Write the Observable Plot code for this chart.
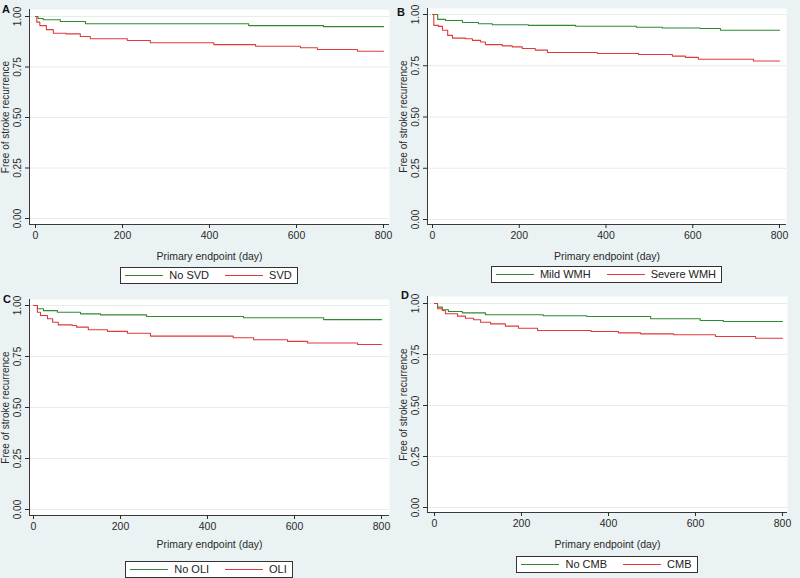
<!DOCTYPE html>
<html><head><meta charset="utf-8">
<script src="https://cdn.jsdelivr.net/npm/d3@7"></script>
<script src="https://cdn.jsdelivr.net/npm/@observablehq/plot@0.6"></script>
<style>
html,body{margin:0;padding:0;background:#eaf2f3;}
#fig{position:relative;width:800px;height:578px;overflow:hidden;background:#eaf2f3;font-family:"Liberation Sans",Arial,sans-serif;color:#222;}
.cell{position:absolute;width:400px;height:289px;}
.cell svg{position:absolute;left:0;top:0;}
.letter{position:absolute;font-weight:bold;font-size:11px;line-height:11px;color:#111;}
.legend{position:absolute;display:flex;justify-content:center;}
.box{border:1px solid #333;background:#fff;display:flex;align-items:center;padding:0 5px 0 4px;height:15px;font-size:11px;line-height:13px;}
.item{display:flex;align-items:center;}
.item + .item{margin-left:16px;}
.sw{display:block;width:38px;height:1px;margin-right:6px;}
</style>
</head><body>
<div id="fig"></div>
<script>
// ---- data ----
const panelLetters = ["A", "B", "C", "D"];
const groupNames = {
  A: ["No SVD", "SVD"],
  B: ["Mild WMH", "Severe WMH"],
  C: ["No OLI", "OLI"],
  D: ["No CMB", "CMB"]
};
const xTicks = [0, 200, 400, 600, 800];
const yTicks = [0, 0.25, 0.5, 0.75, 1];
const xTitle = "Primary endpoint (day)";
const yTitle = "Free of stroke recurrence";

const noSVD = [[0,1],[6,0.99],[18,0.984],[57,0.975],[115,0.964],[490,0.955],[662,0.950],[800,0.950]];
const SVD = [[0,1],[3,0.972],[10,0.955],[25,0.935],[41,0.917],[70,0.914],[103,0.901],[126,0.890],[211,0.881],[264,0.870],[410,0.861],[506,0.853],[609,0.845],[648,0.837],[740,0.828],[800,0.828]];

const mildWMH = [[0,1],[12,0.976],[30,0.971],[69,0.961],[106,0.955],[138,0.950],[221,0.947],[330,0.943],[470,0.938],[530,0.934],[617,0.932],[664,0.923],[800,0.923]];
const severeWMH = [[0,1],[3,0.947],[14,0.942],[23,0.923],[35,0.898],[46,0.885],[76,0.882],[92,0.874],[111,0.866],[122,0.853],[161,0.847],[184,0.842],[207,0.834],[237,0.826],[265,0.815],[380,0.810],[475,0.805],[553,0.797],[583,0.791],[613,0.782],[740,0.773],[800,0.773]];

const noOLI = [[0,1],[9,0.984],[23,0.975],[55,0.967],[108,0.959],[154,0.954],[260,0.946],[483,0.940],[667,0.931],[800,0.931]];
const OLI = [[0,1],[9,0.967],[16,0.951],[32,0.935],[44,0.918],[57,0.905],[89,0.902],[99,0.894],[126,0.881],[170,0.873],[216,0.864],[269,0.850],[459,0.842],[506,0.832],[584,0.824],[630,0.816],[745,0.809],[800,0.809]];

const noCMB = [[0,1],[7,0.982],[18,0.969],[32,0.961],[64,0.954],[117,0.945],[250,0.940],[350,0.936],[497,0.925],[611,0.917],[664,0.912],[800,0.912]];
const CMB = [[0,1],[7,0.974],[18,0.966],[25,0.950],[53,0.938],[71,0.928],[90,0.920],[106,0.908],[129,0.900],[163,0.889],[193,0.879],[237,0.868],[360,0.863],[423,0.856],[474,0.851],[550,0.847],[646,0.838],[738,0.830],[800,0.830]];

const seriesByPanel = {A: [noSVD, SVD], B: [mildWMH, severeWMH], C: [noOLI, OLI], D: [noCMB, CMB]};

// ---- style / layout ----
const colors = ["#2f8a2f", "#e03a3a"];
const layout = {
  A: {cx: 0,   cy: 0,   left: 29, right: 389, x0: 35, x800: 383, top: 9,  y1: 16, y0: 218, axis: 224, titleOff: 35, legendTop: 267, lx: 2,  ly: 4},
  B: {cx: 398, cy: 0,   left: 29, right: 388, x0: 34, x800: 381, top: 8,  y1: 14, y0: 219, axis: 224, titleOff: 35, legendTop: 266, lx: -1, ly: 7},
  C: {cx: 0,   cy: 289, left: 29, right: 389, x0: 33, x800: 381, top: 10, y1: 16, y0: 220, axis: 226, titleOff: 32, legendTop: 272, lx: 3,  ly: 5},
  D: {cx: 398, cy: 289, left: 29, right: 389, x0: 36, x800: 384, top: 7,  y1: 14, y0: 218, axis: 223, titleOff: 35, legendTop: 267, lx: 3,  ly: 1}
};

const fig = document.getElementById("fig");

for (const key of panelLetters) {
  const g = layout[key];
  const kx = (g.x800 - g.x0) / 800;
  const xDomain = [(g.left - g.x0) / kx, 800 + (g.right - g.x800) / kx];
  const ky = g.y0 - g.y1;
  const yDomain = [-(g.axis - g.y0) / ky, 1 + (g.y1 - g.top) / ky];
  const height = g.axis + 38;
  const [s0, s1] = seriesByPanel[key];
  const toRows = (s) => s.map(([day, surv]) => ({day, surv}));

  const chart = Plot.plot({
    width: 400,
    height,
    marginLeft: g.left,
    marginRight: 400 - g.right,
    marginTop: g.top,
    marginBottom: height - g.axis,
    x: {domain: xDomain},
    y: {domain: yDomain},
    style: {background: "transparent", fontFamily: "'Liberation Sans', Arial, sans-serif", fontSize: "10.5px", color: "#2a2a2a", overflow: "visible"},
    marks: [
      Plot.frame({fill: "white", stroke: "none"}),
      Plot.gridY(yTicks, {stroke: "#e4ecec", strokeOpacity: 1}),
      Plot.line(toRows(s0), {x: "day", y: "surv", curve: "step-after", stroke: colors[0], strokeWidth: 1.1}),
      Plot.line(toRows(s1), {x: "day", y: "surv", curve: "step-after", stroke: colors[1], strokeWidth: 1.1}),
      Plot.ruleX([xDomain[0]], {stroke: "#3a3a3a"}),
      Plot.ruleY([yDomain[0]], {stroke: "#3a3a3a"}),
      Plot.axisX(xTicks, {tickSize: 4, tickPadding: 3, label: xTitle, labelAnchor: "center", labelOffset: g.titleOff, labelArrow: "none"}),
      Plot.axisY(yTicks, {tickSize: 4, tickPadding: 5, tickRotate: -90, tickFormat: d3.format(".2f"), label: yTitle, labelAnchor: "center", labelOffset: g.left - 1, labelArrow: "none", fontSize: 10})
    ]
  });

  const cell = document.createElement("div");
  cell.className = "cell";
  cell.style.left = g.cx + "px";
  cell.style.top = g.cy + "px";
  cell.appendChild(chart);

  const letter = document.createElement("div");
  letter.className = "letter";
  letter.textContent = key;
  letter.style.left = g.lx + "px";
  letter.style.top = g.ly + "px";
  cell.appendChild(letter);

  const legend = document.createElement("div");
  legend.className = "legend";
  legend.style.left = g.left + "px";
  legend.style.width = (g.right - g.left) + "px";
  legend.style.top = g.legendTop + "px";
  const box = document.createElement("div");
  box.className = "box";
  groupNames[key].forEach((name, i) => {
    const item = document.createElement("div");
    item.className = "item";
    const sw = document.createElement("span");
    sw.className = "sw";
    sw.style.background = colors[i];
    const tx = document.createElement("span");
    tx.textContent = name;
    item.appendChild(sw);
    item.appendChild(tx);
    box.appendChild(item);
  });
  legend.appendChild(box);
  cell.appendChild(legend);

  fig.appendChild(cell);
}
</script>
</body></html>
